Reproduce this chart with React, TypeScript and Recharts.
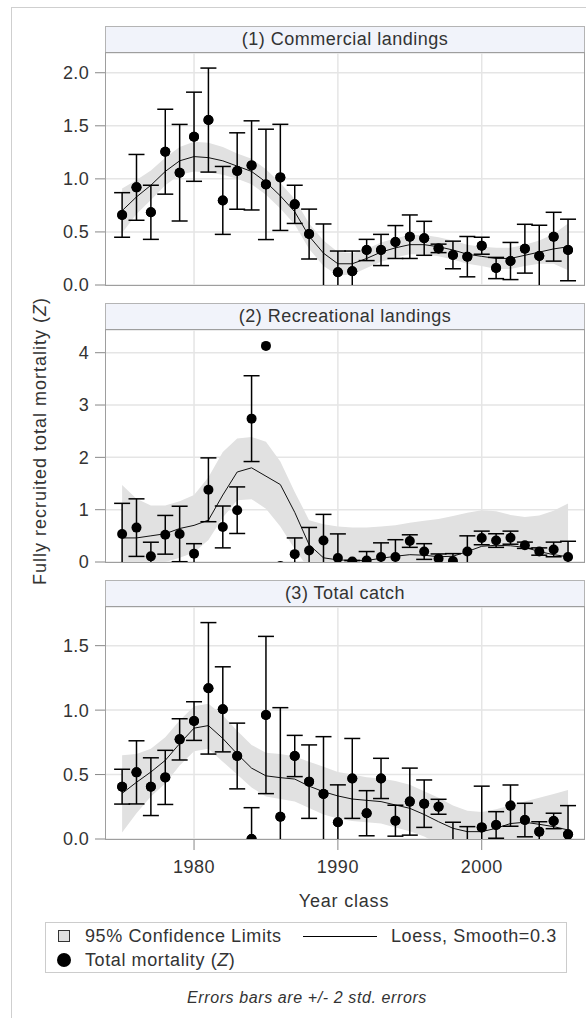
import React from "react";
import {
  ComposedChart,
  Area,
  Line,
  Scatter,
  ErrorBar,
  XAxis,
  YAxis,
  CartesianGrid,
} from "recharts";

const years = [
  1975, 1976, 1977, 1978, 1979, 1980, 1981, 1982, 1983, 1984, 1985, 1986, 1987, 1988, 1989, 1990,
  1991, 1992, 1993, 1994, 1995, 1996, 1997, 1998, 1999, 2000, 2001, 2002, 2003, 2004, 2005, 2006,
];

// (1) Commercial landings: Z, 2 std. errors, loess fit and its 95% limits
const commercialZ = [
  0.66, 0.92, 0.685, 1.256, 1.058, 1.397, 1.554, 0.797, 1.074, 1.127, 0.948, 1.014, 0.76, 0.48, -0.06, 0.12,
  0.13, 0.33, 0.33, 0.405, 0.455, 0.44, 0.345, 0.283, 0.267, 0.37, 0.16, 0.226, 0.342, 0.273, 0.455, 0.33,
];
const commercialErr = [
  0.21, 0.31, 0.255, 0.4, 0.455, 0.42, 0.49, 0.32, 0.36, 0.42, 0.52, 0.5, 0.18, 0.235, 0.635, 0.2,
  0.19, 0.1, 0.147, 0.155, 0.205, 0.16, 0.04, 0.13, 0.19, 0.08, 0.1, 0.175, 0.23, 0.29, 0.23, 0.29,
];
const commercialLoess = [
  0.7, 0.83, 0.94, 1.07, 1.17, 1.21, 1.2, 1.17, 1.12, 1.07, 0.97, 0.84, 0.69, 0.46, 0.3, 0.2,
  0.2, 0.25, 0.31, 0.35, 0.38, 0.38, 0.36, 0.33, 0.29, 0.27, 0.25, 0.25, 0.28, 0.31, 0.34, 0.36,
];
const commercialUpper = [
  0.91, 0.99, 1.08, 1.2, 1.3, 1.35, 1.34, 1.3, 1.24, 1.19, 1.09, 0.96, 0.81, 0.58, 0.42, 0.31,
  0.3, 0.34, 0.4, 0.44, 0.47, 0.47, 0.45, 0.42, 0.38, 0.36, 0.35, 0.35, 0.38, 0.42, 0.48, 0.58,
];
const commercialLower = [
  0.49, 0.67, 0.8, 0.94, 1.04, 1.07, 1.06, 1.04, 1.0, 0.95, 0.85, 0.72, 0.57, 0.34, 0.18, 0.09,
  0.1, 0.16, 0.22, 0.26, 0.29, 0.29, 0.27, 0.24, 0.2, 0.18, 0.15, 0.15, 0.18, 0.2, 0.2, 0.14,
];

// (2) Recreational landings (1985 and 1986 have no standard error)
const recreationalZ = [
  0.536, 0.657, 0.108, 0.52, 0.536, 0.16, 1.38, 0.67, 0.99, 2.74, 4.13, -0.075, 0.15, 0.22, 0.41, 0.077,
  0.01, 0.03, 0.096, 0.096, 0.4, 0.2, 0.064, 0.02, 0.2, 0.46, 0.41, 0.465, 0.32, 0.2, 0.24, 0.096,
];
const recreationalErr: (number | null)[] = [
  0.585, 0.55, 0.27, 0.37, 0.53, 0.19, 0.61, 0.4, 0.445, 0.82, null, null, 0.31, 0.44, 0.5, 0.46,
  0.02, 0.17, 0.27, 0.33, 0.12, 0.15, 0.09, 0.14, 0.3, 0.13, 0.13, 0.125, 0.06, 0.07, 0.14, 0.3,
];
const recreationalLoess = [
  0.46, 0.46, 0.5, 0.54, 0.64, 0.7, 0.8, 1.28, 1.72, 1.8, 1.64, 1.48, 0.95, 0.33, 0.08, 0.04,
  0.03, 0.03, 0.07, 0.11, 0.14, 0.13, 0.1, 0.11, 0.2, 0.3, 0.32, 0.31, 0.28, 0.2, 0.14, 0.1,
];
const recreationalUpper = [
  1.47, 1.21, 1.08, 1.08, 1.16, 1.28, 1.62, 2.1, 2.36, 2.39, 2.3, 1.92, 1.34, 0.8, 0.72, 0.68,
  0.66, 0.66, 0.68, 0.7, 0.75, 0.79, 0.82, 0.88, 0.94, 0.99, 0.97, 0.9, 0.86, 0.89, 0.98, 1.12,
];
const recreationalLower = [
  -0.55, -0.29, -0.08, 0.0, 0.08, 0.18, 0.42, 0.85, 1.18, 1.2, 1.02, 0.68, 0.25, -0.14, -0.56, -0.6,
  -0.6, -0.6, -0.54, -0.48, -0.47, -0.53, -0.62, -0.66, -0.54, -0.39, -0.33, -0.28, -0.3, -0.49, -0.7, -0.92,
];

// (3) Total catch
const totalZ = [
  0.406, 0.517, 0.406, 0.478, 0.773, 0.915, 1.169, 1.006, 0.644, 0.0, 0.962, 0.173, 0.644, 0.445, 0.35, 0.13,
  0.47, 0.2, 0.47, 0.142, 0.29, 0.274, 0.25, -0.06, -0.06, 0.09, 0.109, 0.259, 0.147, 0.057, 0.14, 0.036,
];
const totalErr = [
  0.135, 0.245, 0.224, 0.21, 0.16, 0.15, 0.51, 0.33, 0.255, 0.243, 0.61, 0.846, 0.16, 0.285, 0.444, 0.29,
  0.31, 0.175, 0.156, 0.12, 0.26, 0.184, 0.058, 0.19, 0.156, 0.32, 0.103, 0.16, 0.13, 0.077, 0.06, 0.223,
];
const totalLoess = [
  0.354, 0.44, 0.52, 0.61, 0.74, 0.86, 0.88, 0.78, 0.66, 0.55, 0.49, 0.476, 0.465, 0.41, 0.367, 0.334,
  0.31, 0.3, 0.29, 0.264, 0.238, 0.19, 0.134, 0.083, 0.057, 0.057, 0.083, 0.12, 0.13, 0.114, 0.096, 0.07,
];
const totalUpper = [
  0.65, 0.66, 0.7, 0.79, 0.92, 1.03, 1.05, 0.96, 0.84, 0.73, 0.67, 0.66, 0.64, 0.6, 0.56, 0.52,
  0.5, 0.48, 0.47, 0.45, 0.42, 0.37, 0.32, 0.26, 0.22, 0.21, 0.23, 0.26, 0.29, 0.32, 0.35, 0.38,
];
const totalLower = [
  0.05, 0.2, 0.33, 0.43, 0.57, 0.68, 0.7, 0.6, 0.5, 0.4, 0.33, 0.31, 0.29, 0.24, 0.19, 0.16,
  0.14, 0.13, 0.12, 0.09, 0.06, 0.02, -0.04, -0.1, -0.1, -0.1, -0.07, -0.02, -0.03, -0.09, -0.15, -0.24,
];

const yearTicks = [1980, 1990, 2000];
const commercialTicks = [0, 0.5, 1.0, 1.5, 2.0];
const recreationalTicks = [0, 1, 2, 3, 4];
const totalTicks = [0, 0.5, 1.0, 1.5];

const X_DOMAIN: [number, number] = [1973.88, 2007.11];
const FONT = '"Liberation Sans", Arial, sans-serif';
const TEXT = "#333";
const PLOT_LEFT = 106;
const PLOT_RIGHT = 584;
const PLOT_H = 232;

type Row = { year: number; z: number; err: number | null; loess: number; band: [number, number] };

function buildRows(z: number[], err: (number | null)[], loess: number[], lower: number[], upper: number[]): Row[] {
  return years.map((year, i) => ({
    year,
    z: z[i],
    err: err[i],
    loess: loess[i],
    band: [lower[i], upper[i]],
  }));
}

const Dot = (props: any) => <circle cx={props.cx} cy={props.cy} r={5} fill="#000" />;

// vertical grid lines at the year ticks, placed with the x axis scale
const yearGrid = (args: any) => {
  const scale = args?.xAxis?.scale;
  if (typeof scale === "function") return yearTicks.map((t) => scale(t));
  const { left, width } = args.offset;
  return yearTicks.map((t) => left + ((t - X_DOMAIN[0]) / (X_DOMAIN[1] - X_DOMAIN[0])) * width);
};

type PanelProps = {
  title: string;
  rows: Row[];
  top: number; // y of the plot area's top edge
  yMax: number;
  yTicks: number[];
  decimals: number;
  showX?: boolean;
};

function Panel({ rows, top, yMax, yTicks, decimals, showX }: PanelProps) {
  const xAxisH = showX ? 40 : 0;
  const bottom = showX ? xAxisH : 10;
  const height = 10 + PLOT_H + bottom;
  const right = 586 - PLOT_RIGHT;
  const withErr = rows.filter((r) => r.err != null);
  const noErr = rows.filter((r) => r.err == null);
  const box = { position: "absolute" as const, left: 0, top: top - 10, width: 586, height };
  return (
    <>
      {/* axes, grid, confidence band and loess curve */}
      <div style={box}>
        <ComposedChart
          width={586}
          height={height}
          data={rows}
          margin={{ top: 10, right, bottom: showX ? 0 : 10, left: 0 }}
          style={{ fontFamily: FONT }}
        >
          <CartesianGrid stroke="#e5e5e5" strokeWidth={1.5} verticalCoordinatesGenerator={yearGrid} />
          <XAxis
            type="number"
            dataKey="year"
            domain={X_DOMAIN}
            ticks={yearTicks}
            allowDataOverflow
            height={xAxisH}
            axisLine={false}
            tick={showX ? { fill: TEXT, fontSize: 18, letterSpacing: 0.5 } : false}
            tickLine={showX ? { stroke: "#888" } : false}
            tickSize={11}
            tickMargin={10}
          />
          <YAxis
            type="number"
            domain={[0, yMax]}
            ticks={yTicks}
            interval={0}
            allowDataOverflow
            width={PLOT_LEFT}
            axisLine={false}
            tickFormatter={(v: number) => v.toFixed(decimals)}
            tick={{ fill: TEXT, fontSize: 18, letterSpacing: 0.3 }}
            tickLine={{ stroke: "#888" }}
            tickSize={11}
            tickMargin={6}
          />
          <Area dataKey="band" type="linear" fill="#e1e1e1" fillOpacity={1} stroke="none" isAnimationActive={false} />
          <Line dataKey="loess" type="linear" stroke="#111" strokeWidth={1} dot={false} isAnimationActive={false} />
        </ComposedChart>
      </div>
      {/* points with +/- 2 SE bars, clipped to the plot area */}
      <div style={{ ...box, clipPath: `inset(10px ${right}px ${bottom}px ${PLOT_LEFT}px)` }}>
        <ComposedChart
          width={586}
          height={height}
          data={rows}
          margin={{ top: 10, right, bottom, left: PLOT_LEFT }}
        >
          <XAxis type="number" dataKey="year" domain={X_DOMAIN} allowDataOverflow hide />
          <YAxis type="number" domain={[0, yMax]} allowDataOverflow hide />
          <Scatter data={withErr} dataKey="z" shape={Dot} isAnimationActive={false}>
            <ErrorBar dataKey="err" direction="y" width={8} stroke="#000" strokeWidth={1.5} isAnimationActive={false} />
          </Scatter>
          <Scatter data={noErr} dataKey="z" shape={Dot} isAnimationActive={false} />
        </ComposedChart>
      </div>
    </>
  );
}

const panels: PanelProps[] = [
  {
    title: "(1) Commercial landings",
    rows: buildRows(commercialZ, commercialErr, commercialLoess, commercialLower, commercialUpper),
    top: 53,
    yMax: 2.186,
    yTicks: commercialTicks,
    decimals: 1,
  },
  {
    title: "(2) Recreational landings",
    rows: buildRows(recreationalZ, recreationalErr, recreationalLoess, recreationalLower, recreationalUpper),
    top: 330,
    yMax: 4.434,
    yTicks: recreationalTicks,
    decimals: 0,
  },
  {
    title: "(3) Total catch",
    rows: buildRows(totalZ, totalErr, totalLoess, totalLower, totalUpper),
    top: 607,
    yMax: 1.8,
    yTicks: totalTicks,
    decimals: 1,
    showX: true,
  },
];

export default function App() {
  const midX = (PLOT_LEFT + PLOT_RIGHT) / 2;
  return (
    <div style={{ position: "absolute", left: 0, top: 0, width: 586, height: 1018, background: "#fff", overflow: "hidden" }}>
      {panels.map((p) => (
        <Panel key={p.title} {...p} />
      ))}
      <svg
        width={586}
        height={1018}
        style={{ position: "absolute", left: 0, top: 0, pointerEvents: "none", fontFamily: FONT }}
      >
        <rect x={11.5} y={7.5} width={700} height={1100} fill="none" stroke="#cfcfcf" />
        {panels.map((p) => (
          <g key={p.title}>
            <rect
              x={PLOT_LEFT - 0.5}
              y={p.top - 26.5}
              width={PLOT_RIGHT - PLOT_LEFT + 1}
              height={26}
              fill="#f1f3fa"
              stroke="#b4b4b4"
            />
            <text x={midX} y={p.top - 8} textAnchor="middle" fontSize={18} fill={TEXT} letterSpacing={0.5}>
              {p.title}
            </text>
            <rect
              x={PLOT_LEFT - 0.5}
              y={p.top - 0.5}
              width={PLOT_RIGHT - PLOT_LEFT + 1}
              height={PLOT_H + 1}
              fill="none"
              stroke="#9e9e9e"
            />
          </g>
        ))}
        <text
          transform="translate(45.5,441) rotate(-90)"
          textAnchor="middle"
          fontSize={18}
          fill={TEXT}
          letterSpacing={1}
        >
          Fully recruited total mortality (<tspan fontStyle="italic">Z</tspan>)
        </text>
        <text x={344} y={906.5} textAnchor="middle" fontSize={18} fill={TEXT} letterSpacing={0.8}>
          Year class
        </text>

        {/* legend */}
        <rect x={45.5} y={922.5} width={521} height={50} fill="#fff" stroke="#cccccc" />
        <rect x={58.5} y={930.5} width={11} height={11} fill="#e1e1e1" stroke="#333" />
        <text x={85} y={942} fontSize={18} fill={TEXT} letterSpacing={0.6}>
          95% Confidence Limits
        </text>
        <line x1={303} x2={377} y1={936.5} y2={936.5} stroke="#000" strokeWidth={1.2} />
        <text x={391} y={942} fontSize={18} fill={TEXT} letterSpacing={0.6}>
          Loess, Smooth=0.3
        </text>
        <circle cx={64} cy={960} r={7} fill="#000" />
        <text x={85} y={966} fontSize={18} fill={TEXT} letterSpacing={0.6}>
          Total mortality (<tspan fontStyle="italic">Z</tspan>)
        </text>

        <text x={307} y={1003} textAnchor="middle" fontSize={16} fontStyle="italic" fill={TEXT} letterSpacing={0.6}>
          Errors bars are +/- 2 std. errors
        </text>
      </svg>
    </div>
  );
}
